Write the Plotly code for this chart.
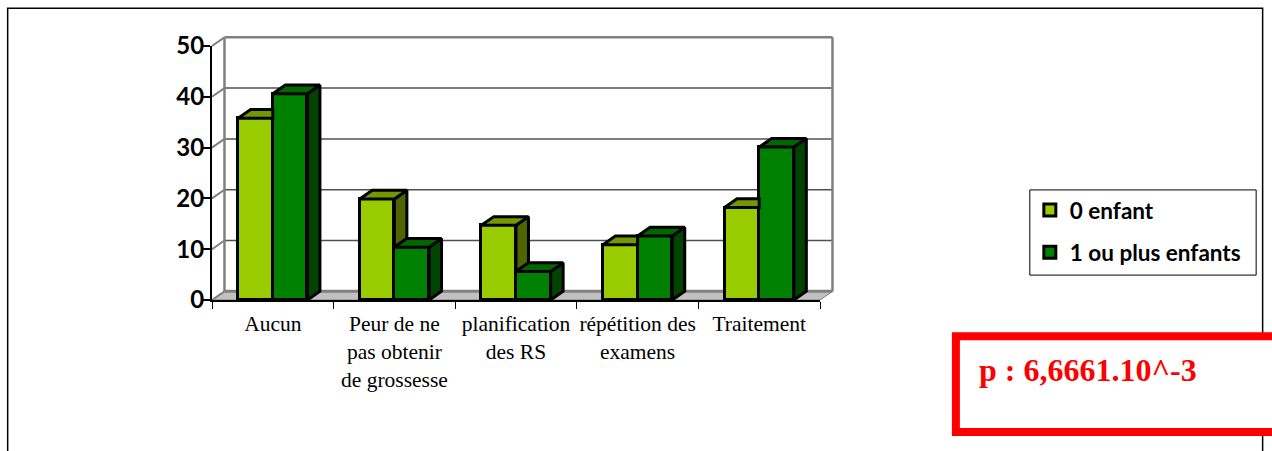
import plotly.graph_objects as go

categories = ["Aucun", "Peur de ne<br>pas obtenir<br>de grossesse", "planification<br>des RS",
              "répétition des<br>examens", "Traitement"]
series_names = ["0 enfant", "1 ou plus enfants"]
zero_enfant = [35.8, 19.9, 14.7, 10.9, 18.2]
un_ou_plus = [40.6, 10.4, 5.6, 12.6, 30.1]
y_ticks = [0, 10, 20, 30, 40, 50]
p_text = "p : 6,6661.10^-3"

L, R, T, B = 211.5, 820.0, 45.5, 300.5
W, H = 1272, 451
DX, DY = 0.1026, 1.71   # depth of the pseudo-3D projection, in data units
BW = 0.285
LW = 3

LIGHT, LIGHT_TOP, LIGHT_SIDE = "#99CC00", "#729900", "#4F6600"
DARK, DARK_TOP, DARK_SIDE = "#008000", "#006600", "#004400"
INK = "#000000"

centers = [i + 0.5 for i in range(len(categories))]
fig = go.Figure()

fig.add_trace(go.Bar(x=centers, y=zero_enfant, name=series_names[0], width=BW, offset=-BW,
                     marker=dict(color=LIGHT, line=dict(color=INK, width=LW)),
                     legendgroup="a", cliponaxis=False))
fig.add_trace(go.Bar(x=centers, y=un_ou_plus, name=series_names[1], width=BW, offset=0,
                     marker=dict(color=DARK, line=dict(color=INK, width=LW)),
                     legendgroup="b", cliponaxis=False))


def face(xs, ys, color):
    fig.add_trace(go.Scatter(x=xs, y=ys, mode="lines", fill="toself", fillcolor=color,
                             line=dict(color=INK, width=LW), showlegend=False,
                             hoverinfo="skip", cliponaxis=False))


for c, a, b in zip(centers, zero_enfant, un_ou_plus):
    x0, x1, x2 = c - BW, c, c + BW
    # light bar: side only above the dark bar, top clipped by a taller dark bar
    if a > b:
        face([x1, x1 + DX, x1 + DX, x1, x1], [a, a + DY, b + DY, b, a], LIGHT_SIDE)
        face([x0, x1, x1 + DX, x0 + DX, x0], [a, a, a + DY, a + DY, a], LIGHT_TOP)
    else:
        face([x0, x1, x1, x0 + DX, x0], [a, a, a + DY, a + DY, a], LIGHT_TOP)
    # dark bar
    face([x2, x2 + DX, x2 + DX, x2, x2], [b, b + DY, DY, 0, b], DARK_SIDE)
    face([x1, x2, x2 + DX, x1 + DX, x1], [b, b, b + DY, b + DY, b], DARK_TOP)

YMAX, XMAX = y_ticks[-1], len(categories)


def xp(v):
    return v / XMAX


def yp(v):
    return v / YMAX


def pxx(v):
    return (v - L) / (R - L)


def pxy(v):
    return (B - v) / (B - T)


def seg(x0, y0, x1, y1, color, width, layer="below"):
    return dict(type="line", xref="paper", yref="paper", x0=x0, y0=y0, x1=x1, y1=y1,
                line=dict(color=color, width=width), layer=layer)


shapes = []
# outer frame
shapes.append(dict(type="rect", xref="paper", yref="paper", x0=pxx(7), x1=pxx(1263), y0=pxy(470), y1=pxy(7.5),
                   line=dict(color=INK, width=1.5), fillcolor="rgba(0,0,0,0)", layer="below"))
# floor
shapes.append(dict(type="path", xref="paper", yref="paper", layer="below", fillcolor="#C0C0C0",
                   line=dict(color="#808080", width=1),
                   path=f"M{xp(0)},{yp(0)}L{xp(XMAX)},{yp(0)}L{xp(XMAX + DX)},{yp(DY)}L{xp(DX)},{yp(DY)}Z"))
# grid on back wall and ticks on side wall
for v in y_ticks[1:-1]:
    shapes.append(seg(xp(DX), yp(v + DY), xp(XMAX + DX), yp(v + DY), "#505050", 1.5))
for v in y_ticks:
    shapes.append(seg(xp(0), yp(v), xp(DX), yp(v + DY), "#808080", 2))
# walls
shapes.append(seg(xp(DX), yp(DY), xp(XMAX + DX), yp(DY), "#808080", 3))
shapes.append(seg(xp(DX), yp(DY), xp(DX), yp(YMAX + DY), "#808080", 2.5))
shapes.append(seg(xp(DX), yp(YMAX + DY), xp(XMAX + DX), yp(YMAX + DY), "#808080", 2.5))
shapes.append(seg(xp(XMAX + DX), yp(YMAX + DY), xp(XMAX + DX), yp(DY), "#808080", 2.5))
# annotation box
shapes.append(dict(type="rect", xref="paper", yref="paper", x0=pxx(956), x1=pxx(1290), y0=pxy(433), y1=pxy(337),
                   line=dict(color="#FF0000", width=8), fillcolor="#FFFFFF", layer="below"))
# legend box
shapes.append(dict(type="rect", xref="paper", yref="paper", x0=pxx(1030), x1=pxx(1256.5), y0=pxy(275.5), y1=pxy(190),
                   line=dict(color=INK, width=1), fillcolor="#FFFFFF", layer="below"))

fig.update_layout(
    width=W, height=H, autosize=False,
    margin=dict(l=L, r=W - R, t=T, b=H - B, pad=0),
    paper_bgcolor="#FFFFFF", plot_bgcolor="rgba(0,0,0,0)",
    shapes=shapes,
    bargap=0,
    hovermode=False,
    legend=dict(x=pxx(1030), y=pxy(189), xanchor="left", yanchor="top", bgcolor="rgba(0,0,0,0)",
                borderwidth=0, tracegroupgap=10,
                font=dict(family="Lato", size=22.5, color="#000000", weight="bold"),
                traceorder="grouped", itemclick=False),
    xaxis=dict(range=[0, XMAX], tickmode="array", tickvals=centers, ticktext=categories,
               ticks="outside", ticklen=3, tickcolor="rgba(0,0,0,0)",
               showgrid=False, zeroline=False, showline=True, linecolor=INK, linewidth=2,
               tickangle=0,
               tickfont=dict(family="Liberation Serif", size=21.5, color="#000000"),
               minor=dict(tickmode="array", tickvals=list(range(XMAX + 1)), ticks="outside",
                          ticklen=7, tickcolor=INK, tickwidth=1, showgrid=False)),
    yaxis=dict(range=[0, YMAX], tickmode="array", tickvals=y_ticks, ticks="outside", ticklen=7,
               tickcolor=INK, tickwidth=2, showgrid=False, zeroline=False, showline=True,
               linecolor=INK, linewidth=2, ticklabelstandoff=-6,
               tickfont=dict(family="Lato", size=24, color="#000000", weight="bold")),
    annotations=[dict(text=p_text, xref="paper", yref="paper", x=pxx(977), y=pxy(371),
                      xanchor="left", yanchor="middle", showarrow=False,
                      font=dict(family="Liberation Serif", size=32, color="#FF0000", weight="bold"))],
)

fig.write_html("out.html", config=dict(displayModeBar=False),
               post_script="document.body.style.margin='0';document.body.style.overflow='hidden';")
